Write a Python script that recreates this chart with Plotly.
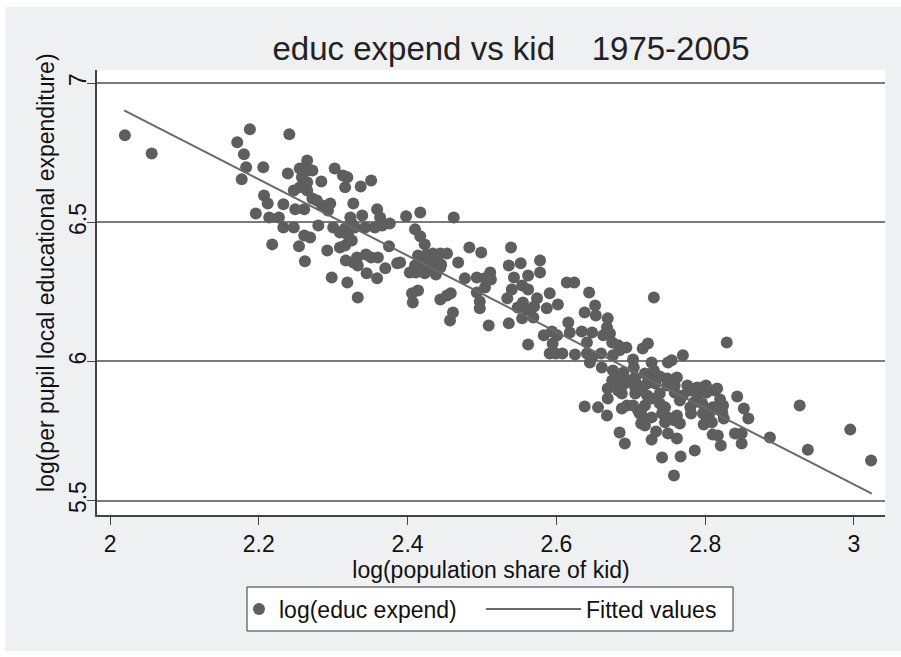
import plotly.graph_objects as go

# ---- data ----
kid = [
    # 2.0 - 2.25
    2.020, 2.056, 2.171, 2.177, 2.180, 2.183, 2.188, 2.196, 2.206, 2.207,
    2.212, 2.214, 2.218, 2.227, 2.233, 2.233, 2.239, 2.241, 2.247, 2.247,
    2.249, 2.254,
    # 2.25 - 2.30
    2.255, 2.255, 2.258, 2.261, 2.261, 2.262, 2.265, 2.265, 2.265, 2.265,
    2.269, 2.272, 2.272, 2.278, 2.280, 2.284, 2.285, 2.292, 2.293, 2.296,
    2.298, 2.300, 2.302,
    # 2.30 - 2.39
    2.309, 2.309, 2.313, 2.316, 2.316, 2.316, 2.317, 2.319, 2.320, 2.319,
    2.323, 2.325, 2.325, 2.327, 2.327, 2.329, 2.332, 2.333, 2.333, 2.337,
    2.339, 2.343, 2.344, 2.345, 2.351, 2.351, 2.356, 2.359, 2.359, 2.360,
    2.363, 2.366, 2.370, 2.375, 2.376, 2.386,
    # 2.39 - 2.47
    2.390, 2.398, 2.403, 2.406, 2.407, 2.410, 2.410, 2.411, 2.414, 2.414,
    2.417, 2.417, 2.418, 2.423, 2.423, 2.425, 2.426, 2.430, 2.434, 2.434,
    2.438, 2.438, 2.444, 2.445, 2.444, 2.444, 2.453, 2.453, 2.458, 2.457,
    2.461, 2.462, 2.468,
    # 2.47 - 2.58
    2.477, 2.483, 2.493, 2.493, 2.497, 2.497, 2.499, 2.504, 2.504, 2.509,
    2.511, 2.512, 2.534, 2.536, 2.536, 2.539, 2.540, 2.543, 2.548, 2.552,
    2.554, 2.554, 2.555, 2.560, 2.562, 2.562, 2.562, 2.569, 2.570, 2.574,
    2.578, 2.578,
    # 2.58 - 2.665
    2.583, 2.587, 2.591, 2.594, 2.595, 2.591, 2.599, 2.608, 2.601, 2.602,
    2.614, 2.624, 2.616, 2.618, 2.625, 2.634, 2.644, 2.638, 2.652, 2.653,
    2.641, 2.641, 2.645, 2.648, 2.648, 2.638, 2.656, 2.660, 2.661, 2.663,
    # 2.665 - 2.725
    2.668, 2.669, 2.672, 2.675, 2.683, 2.685, 2.694, 2.676, 2.669, 2.669,
    2.668, 2.675, 2.676, 2.690, 2.683, 2.683, 2.685, 2.688, 2.688, 2.692,
    2.685, 2.692, 2.695, 2.699, 2.703, 2.704, 2.703, 2.706, 2.706, 2.706,
    2.710, 2.710, 2.712, 2.714, 2.715, 2.715, 2.716, 2.719, 2.719, 2.719,
    2.722, 2.722, 2.723,
    # 2.725 - 2.79
    2.726, 2.728, 2.731, 2.728, 2.728, 2.728, 2.731, 2.733, 2.734, 2.739,
    2.739, 2.739, 2.742, 2.742, 2.746, 2.746, 2.749, 2.749, 2.750, 2.750,
    2.750, 2.755, 2.758, 2.759, 2.759, 2.759, 2.762, 2.762, 2.762, 2.766,
    2.766, 2.767, 2.770, 2.770, 2.776, 2.780, 2.780, 2.781, 2.785, 2.786,
    2.789, 2.790,
    # 2.79 - 3.03
    2.796, 2.797, 2.797, 2.798, 2.801, 2.802, 2.805, 2.809, 2.810, 2.810,
    2.813, 2.813, 2.816, 2.817, 2.820, 2.821, 2.823, 2.824, 2.825, 2.829,
    2.840, 2.843, 2.849, 2.849, 2.852, 2.858, 2.887, 2.927, 2.938, 2.995,
    3.023,
]

educ = [
    6.813, 6.748, 6.788, 6.655, 6.745, 6.698, 6.835, 6.532, 6.698, 6.597,
    6.568, 6.518, 6.421, 6.518, 6.565, 6.482, 6.676, 6.817, 6.615, 6.482,
    6.547, 6.414,
    6.694, 6.626, 6.662, 6.547, 6.453, 6.360, 6.723, 6.687, 6.644, 6.615,
    6.446, 6.687, 6.586, 6.579, 6.489, 6.647, 6.561, 6.399, 6.543, 6.568,
    6.302, 6.482, 6.694,
    6.464, 6.410, 6.669, 6.626, 6.478, 6.417, 6.363, 6.662, 6.453, 6.284,
    6.518, 6.496, 6.435, 6.568, 6.356, 6.482, 6.374, 6.345, 6.230, 6.629,
    6.525, 6.482, 6.385, 6.317, 6.651, 6.374, 6.482, 6.547, 6.299, 6.374,
    6.518, 6.489, 6.335, 6.414, 6.496, 6.353,
    6.356, 6.522, 6.320, 6.245, 6.212, 6.475, 6.345, 6.320, 6.381, 6.255,
    6.536, 6.450, 6.353, 6.421, 6.317, 6.356, 6.385, 6.374, 6.388, 6.327,
    6.360, 6.313, 6.388, 6.349, 6.338, 6.223, 6.388, 6.237, 6.245, 6.147,
    6.176, 6.518, 6.356,
    6.299, 6.410, 6.302, 6.248, 6.216, 6.191, 6.392, 6.299, 6.266, 6.129,
    6.320, 6.295, 6.227, 6.345, 6.137, 6.410, 6.259, 6.302, 6.194, 6.353,
    6.273, 6.155, 6.212, 6.187, 6.309, 6.259, 6.061, 6.158, 6.198, 6.227,
    6.363, 6.320,
    6.094, 6.191, 6.245, 6.108, 6.065, 6.029, 6.029, 6.029, 6.094, 6.205,
    6.284, 6.284, 6.140, 6.104, 6.025, 6.108, 6.248, 6.176, 6.201, 6.165,
    6.068, 6.029, 5.996, 6.104, 6.014, 5.838, 5.835, 6.029, 5.978, 6.094,
    6.122, 6.155, 6.101, 6.068, 6.058, 6.040, 6.050, 6.022, 5.903, 5.867,
    5.806, 5.932, 5.968, 5.960, 5.950, 5.896, 5.921, 5.885, 5.831, 5.921,
    5.745, 5.705, 5.842, 5.932, 6.007, 5.978, 5.842, 5.942, 5.906, 5.885,
    5.914, 5.824, 5.813, 5.777, 5.896, 5.806, 6.047, 5.957, 5.842, 5.770,
    5.921, 5.878, 6.065,
    5.932, 5.996, 5.968, 5.867, 5.799, 5.719, 6.230, 5.921, 5.748, 5.946,
    5.885, 5.849, 5.813, 5.655, 5.835, 5.781, 5.939, 5.914, 5.996, 5.799,
    5.741, 6.004, 5.590, 5.914, 5.888, 5.788, 5.942, 5.806, 5.723, 5.860,
    5.777, 5.658, 6.022, 5.878, 5.914, 5.896, 5.835, 5.813, 5.853, 5.680,
    5.906, 5.878,
    5.849, 5.906, 5.813, 5.773, 5.914, 5.888, 5.806, 5.781, 5.835, 5.737,
    5.896, 5.831, 5.903, 5.734, 5.863, 5.698, 5.817, 5.842, 5.795, 6.068,
    5.741, 5.874, 5.741, 5.705, 5.831, 5.795, 5.727, 5.842, 5.683, 5.755,
    5.644,
]

fit_x = [2.019, 3.024]
fit_y = [6.903, 5.525]

x_ticks = [2, 2.2, 2.4, 2.6, 2.8, 3]
x_labels = ["2", "2.2", "2.4", "2.6", "2.8", "3"]
y_ticks = [5.5, 6, 6.5, 7]
y_labels = ["5.5", "6", "6.5", "7"]

assert len(kid) == len(educ)

FONT = "Liberation Sans, Arial, Helvetica, sans-serif"
BG = "#eef0f2"
# plot area in pixels: x 97..885, y 70..515 (used to place paper-coordinate items)
PL, PR, PT, PB = 97, 885, 70, 515


def px_x(p):
    return (p - PL) / (PR - PL)


def px_y(p):
    return (PB - p) / (PB - PT)


fig = go.Figure()
fig.add_trace(go.Scatter(
    x=kid, y=educ, mode="markers", name="log(educ expend)",
    marker=dict(size=12, color="#5e5e5e", line=dict(width=0)),
    legend="legend",
))
fig.add_trace(go.Scatter(
    x=fit_x, y=fit_y, mode="lines", name="Fitted values",
    line=dict(color="#6a6a6a", width=2),
    legend="legend2",
))

shapes = []
# white frame around the grey graph region
shapes.append(dict(type="rect", xref="paper", yref="paper",
                   x0=px_x(-5), x1=px_x(5), y0=px_y(662), y1=px_y(-5),
                   fillcolor="white", line=dict(width=0), layer="above"))
for (y0, y1) in [(-5, 7), (651, 662)]:
    shapes.append(dict(type="rect", xref="paper", yref="paper",
                       x0=px_x(-5), x1=px_x(906), y0=px_y(y1), y1=px_y(y0),
                       fillcolor="white", line=dict(width=0), layer="above"))
# legend box
shapes.append(dict(type="rect", xref="paper", yref="paper",
                   x0=px_x(247), x1=px_x(733), y0=px_y(631), y1=px_y(587),
                   fillcolor="white", line=dict(color="#333333", width=1),
                   layer="above"))

fig.update_layout(
    width=901, height=657,
    margin=dict(l=PL, r=901 - PR, t=PT, b=657 - PB),
    paper_bgcolor=BG, plot_bgcolor="white",
    font=dict(family=FONT, size=23, color="#111111"),
    title=dict(text="educ expend vs kid    1975-2005",
               x=511 / 901, xref="container", xanchor="center",
               y=1 - 48 / 657, yref="container", yanchor="middle",
               font=dict(size=33, color="#222222")),
    showlegend=True,
    legend=dict(orientation="h", x=px_x(239), xanchor="left",
                y=px_y(609), yanchor="middle",
                bgcolor="rgba(0,0,0,0)", borderwidth=0,
                font=dict(size=23), itemwidth=30),
    legend2=dict(orientation="h", x=px_x(481), xanchor="left",
                 y=px_y(609), yanchor="middle",
                 bgcolor="rgba(0,0,0,0)", borderwidth=0,
                 font=dict(size=23), itemwidth=95),
    shapes=shapes,
    annotations=[dict(text="log(per pupil local educational expenditure)",
                      textangle=-90, xref="paper", yref="paper",
                      x=px_x(46), y=px_y(273), xanchor="center",
                      yanchor="middle", showarrow=False,
                      font=dict(size=23, color="#111111"))],
    xaxis=dict(range=[1.9825, 3.0417], tickvals=x_ticks, ticktext=x_labels,
               showgrid=False, zeroline=False, showline=True,
               linecolor="#444444", linewidth=1.5,
               ticks="outside", ticklen=8, tickwidth=1.2, tickcolor="#444444",
               tickfont=dict(size=23),
               title=dict(text="log(population share of kid)", standoff=0,
                          font=dict(size=23))),
    yaxis=dict(range=[5.448, 7.048], tickvals=y_ticks, ticktext=y_labels,
               tickangle=-90, tickfont=dict(size=23), ticklabelstandoff=-8,
               showgrid=True, gridcolor="#7a7a7a", gridwidth=1.5,
               zeroline=False, showline=True,
               linecolor="#444444", linewidth=1.5,
               ticks="outside", ticklen=8, tickwidth=1.2, tickcolor="#444444"),
)

fig.write_html("out.html")
